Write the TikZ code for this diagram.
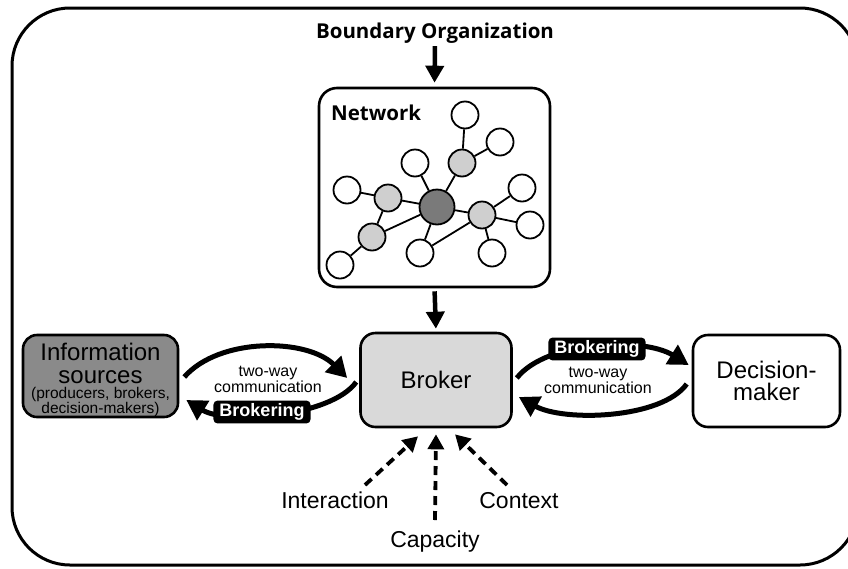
\documentclass[tikz,border=0pt]{standalone}
\usepackage{fontspec}
\setmainfont{Liberation Sans}
\newfontfamily\opensans{Open Sans}
\usetikzlibrary{arrows.meta}
\definecolor{infogray}{HTML}{8A8A8A}
\definecolor{brokergray}{HTML}{D9D9D9}
\definecolor{lightnode}{HTML}{CFCFCF}
\definecolor{darknode}{HTML}{7A7A7A}
\begin{document}
\begin{tikzpicture}[x=1pt,y=-1pt,
  box/.style={draw, line width=2.6pt, rounded corners=15pt},
  wnode/.style={circle, draw, line width=1.8pt, fill=white, minimum size=27pt, inner sep=0pt},
  gnode/.style={wnode, fill=lightnode},
  cnode/.style={wnode, fill=darknode, minimum size=35pt},
  link/.style={line width=1.8pt},
  bigarrow/.style={line width=4.5pt, -{Triangle[length=17pt,width=18pt]}},
  curvarrow/.style={line width=5pt, -{Triangle[length=20pt,width=22pt]}},
  dasharrow/.style={line width=3.8pt, dash pattern=on 9pt off 6pt, -{Triangle[length=15pt,width=16pt]}},
  brklabel/.style={fill=black, text=white, font=\bfseries\fontsize{18}{18}\selectfont, rounded corners=4pt, inner xsep=6pt, inner ysep=3pt},
  comm/.style={align=center, font=\fontsize{16}{14}\selectfont, inner sep=0pt},
  factor/.style={font=\fontsize{23}{23}\selectfont, anchor=base, inner sep=0pt},
  title/.style={font=\opensans\bfseries\fontsize{20.5}{20.5}\selectfont, inner sep=0pt}
]
\useasboundingbox (0,0) rectangle (848,568);
\clip (0,0) rectangle (848,568);
\draw[line width=3pt, rounded corners=58pt] (12,8) rectangle (858,565);

% title and network box
\node[title, anchor=base] (bo) at (435,38) {Boundary Organization};
\node[box, rounded corners=18pt, minimum width=231pt, minimum height=199pt] (net) at (434.5,187.5) {};
\node[title, anchor=base west] (netlbl) at (331,120) {Network};

% network nodes
\node[cnode] (c) at (437,207) {};
\node[wnode] (t1) at (465,115) {};
\node[wnode] (t2) at (500,142) {};
\node[gnode] (g1) at (462,163) {};
\node[wnode] (w1) at (415,163) {};
\node[wnode] (w2) at (347,190) {};
\node[gnode] (g2) at (388,198) {};
\node[gnode] (g3) at (372,237) {};
\node[wnode] (w3) at (340,265) {};
\node[wnode] (w4) at (420,253) {};
\node[gnode] (g4) at (482,215) {};
\node[wnode] (w5) at (522,188) {};
\node[wnode] (w6) at (530,225) {};
\node[wnode] (w7) at (492,253) {};
\draw[link] (t1) -- (g1);
\draw[link] (g1) -- (t2);
\draw[link] (g1) -- (c);
\draw[link] (w1) -- (c);
\draw[link] (w2) -- (g2);
\draw[link] (g2) -- (c);
\draw[link] (g2) -- (g3);
\draw[link] (g3) -- (c);
\draw[link] (g3) -- (w3);
\draw[link] (c) -- (w4);
\draw[link] (c) -- (g4);
\draw[link] (w4) -- (g4);
\draw[link] (g4) -- (w5);
\draw[link] (g4) -- (w6);
\draw[link] (g4) -- (w7);

% main boxes
\node[box, fill=brokergray, minimum width=151pt, minimum height=94pt, font=\fontsize{24}{24}\selectfont] (broker) at (436,380) {Broker};
\node[box, rounded corners=14pt, fill=infogray, minimum width=155pt, minimum height=82pt] (info) at (100.5,376) {};
\node[align=center, inner sep=0pt, font=\fontsize{24}{22.5}\selectfont] (infotext) at (100.5,380) {Information\\sources\\[-7.5pt]{\fontsize{15.5}{15}\selectfont (producers, brokers,}\\[-7.5pt]{\fontsize{15.5}{15}\selectfont decision-makers)}};
\node[box, fill=white, minimum width=147pt, minimum height=92pt, align=center, font=\fontsize{24}{22}\selectfont] (dm) at (766.5,381) {Decision-\\maker};

% vertical arrows
\draw[bigarrow, shorten <=3pt, shorten >=4pt] (bo.south) -- (net.north);
\draw[bigarrow, shorten <=3pt, shorten >=3pt] (net.south) -- (broker.north);

% communication arcs
\draw[curvarrow] ([xshift=5pt,yshift=-1pt]info.east) .. controls +(35,-40) and +(-40,-40) .. ([xshift=-12pt,yshift=2pt]broker.west);
\draw[curvarrow] ([xshift=-3pt,yshift=-2pt]broker.west) .. controls +(-25,35) and +(40,25) .. ([xshift=7pt,yshift=-24pt]info.east);
\draw[curvarrow] ([xshift=4pt,yshift=2pt]broker.east) .. controls +(30,-38) and +(-45,-28) .. ([xshift=-3pt,yshift=16pt]dm.west);
\draw[curvarrow] ([xshift=-5pt,yshift=-3pt]dm.west) .. controls +(-25,35) and +(45,25) .. ([xshift=6pt,yshift=-17pt]broker.east);

\node[comm] (commL) at (268,379) {two-way\\communication};
\node[comm] (commR) at (598,380) {two-way\\communication};
\node[brklabel] (brkL) at (262,412) {Brokering};
\node[brklabel] (brkR) at (597,349) {Brokering};

% factors
\node[factor] (inter) at (335,508) {Interaction};
\node[factor] (capa) at (435,547) {Capacity};
\node[factor] (cont) at (519,508) {Context};
\coordinate (ia) at (365,485);
\coordinate (ca) at (435,520);
\coordinate (xa) at (507,485);
\draw[dasharrow] (ia) -- ([xshift=-18pt,yshift=-8pt]broker.south);
\draw[dasharrow] (ca) -- ([yshift=-6pt]broker.south);
\draw[dasharrow] (xa) -- ([xshift=19pt,yshift=-6pt]broker.south);
\end{tikzpicture}
\end{document}
